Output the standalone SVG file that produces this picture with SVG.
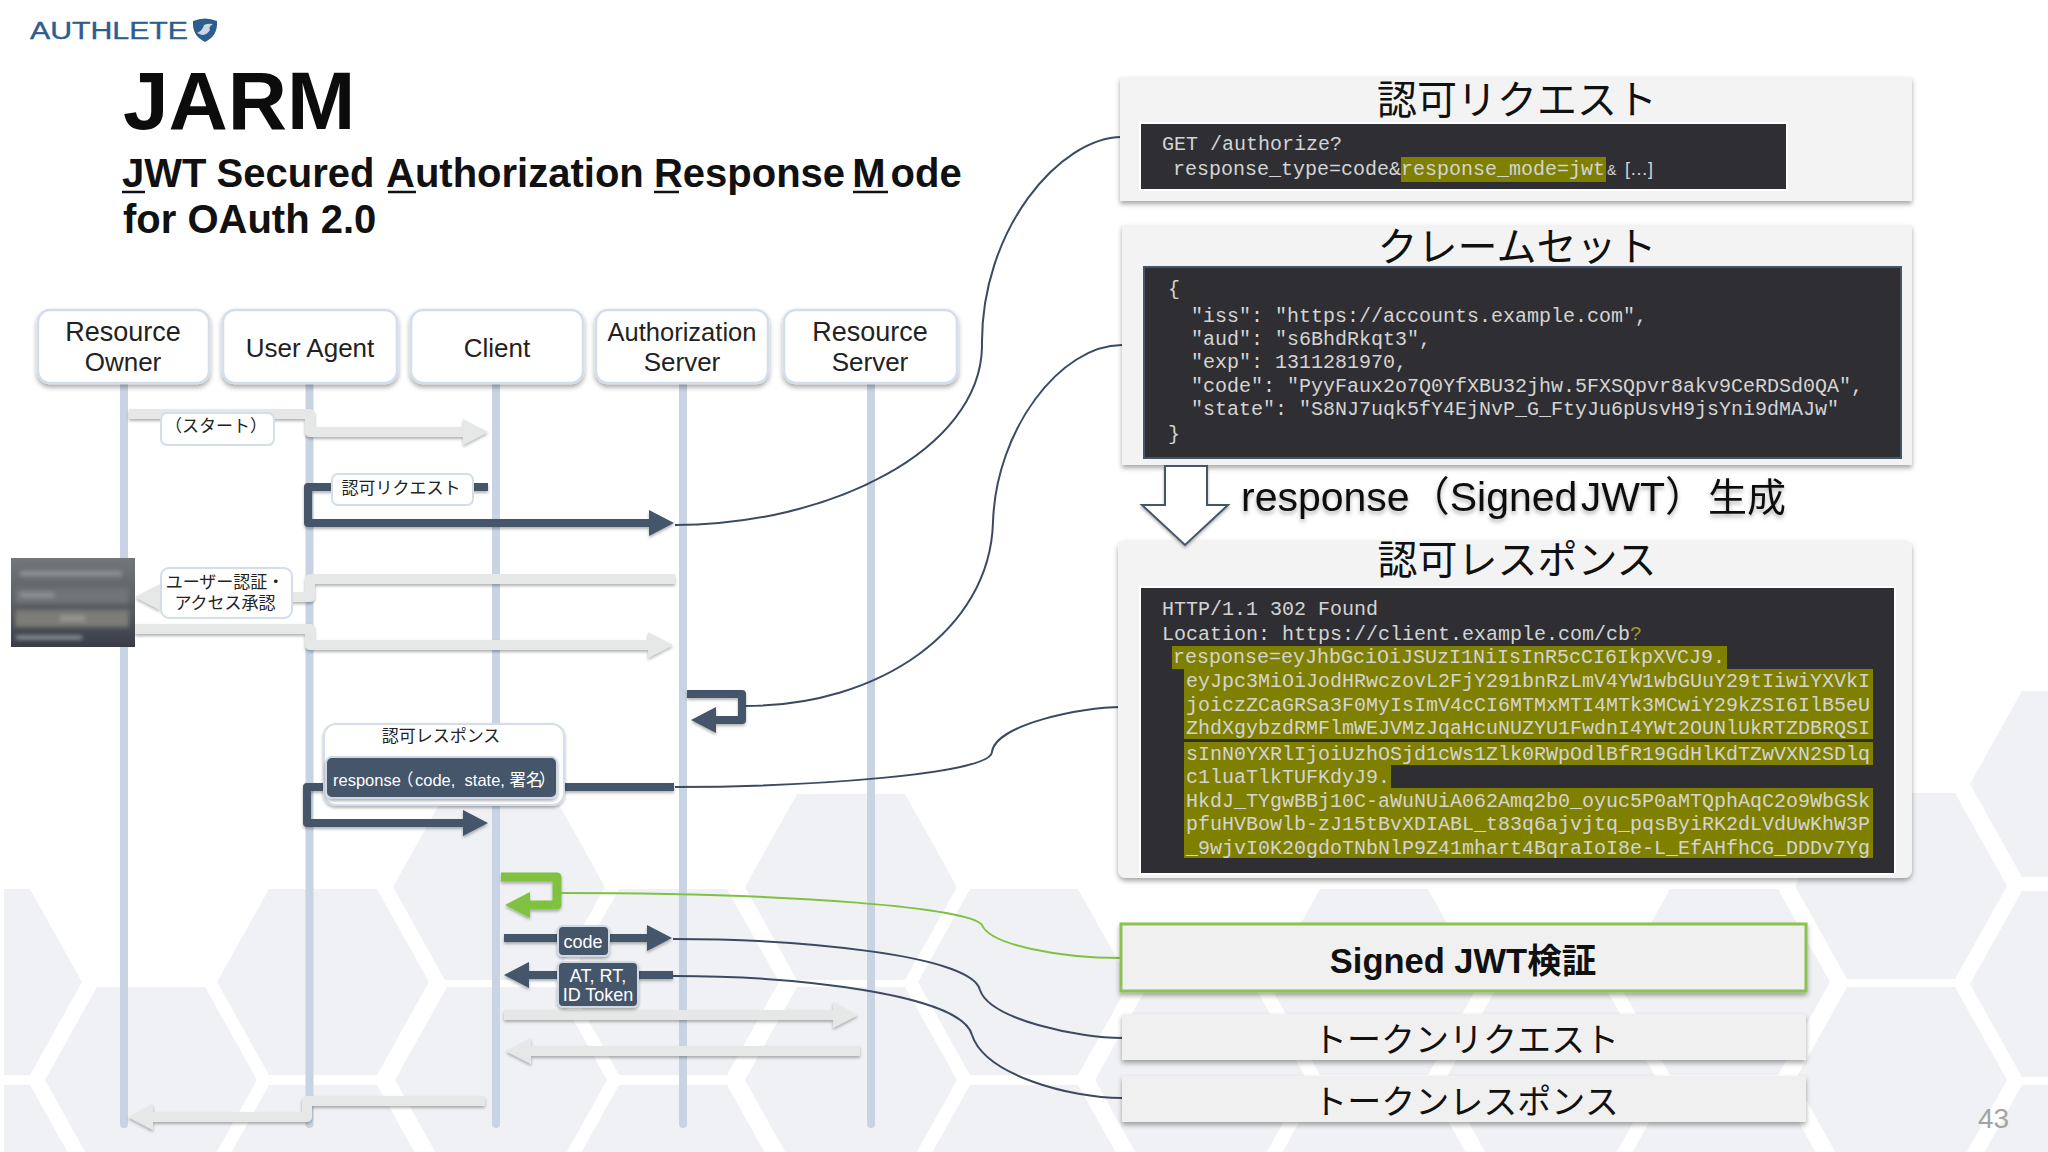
<svg xmlns="http://www.w3.org/2000/svg" xmlns:xlink="http://www.w3.org/1999/xlink" width="2048" height="1152" viewBox="0 0 2048 1152">
<style>
text{font-family:"Liberation Sans","Noto Sans CJK JP",sans-serif;fill:#111}
.b{font-weight:bold}
.ja{font-family:"Noto Sans CJK JP","Liberation Sans",sans-serif}
.actor{fill:#fff;stroke:#d3deea;stroke-width:2.5;filter:url(#sh)}
.life{stroke:#c8d4e3;stroke-width:8;stroke-linecap:round}
.at{font-size:26px;text-anchor:middle;fill:#222}
.panel{fill:#f3f3f4;filter:url(#sh)}
.dark{fill:#2f2f33}
.olive{fill:#808000}
.code{font-family:"Liberation Mono",monospace;font-size:20px;fill:#d4d4d4;white-space:pre}
.h{font-size:40px;text-anchor:middle}
.grey{fill:none;stroke:#e6e7e7;stroke-width:10;stroke-linejoin:round;filter:url(#shg)}
.navy{fill:none;stroke:#44546a;stroke-width:8;stroke-linejoin:round;filter:url(#shg)}
.green{fill:none;stroke:#7fc241;stroke-width:9;stroke-linejoin:round;filter:url(#shg)}
.eg{marker-end:url(#hg)}.en{marker-end:url(#hn)}.el{marker-end:url(#hl)}
.cv{fill:none;stroke:#3c4a60;stroke-width:2}
.lab{fill:#fff;stroke:#d3deea;stroke-width:2}
.ls{font-size:17px;text-anchor:middle;fill:#222}
.chip{fill:#44546a;stroke:#cfd9e6;stroke-width:2;filter:url(#shg)}
.wt{fill:#fff;font-size:18px;text-anchor:middle}
.tb{fill:#f0f0f1;filter:url(#sh)}
</style>
<defs>
<filter id="sh" filterUnits="userSpaceOnUse" x="0" y="0" width="2048" height="1152"><feDropShadow dx="0" dy="3" stdDeviation="2.5" flood-color="#000" flood-opacity="0.35"/></filter>
<filter id="shg" filterUnits="userSpaceOnUse" x="0" y="0" width="2048" height="1152"><feDropShadow dx="0" dy="2" stdDeviation="1.5" flood-color="#000" flood-opacity="0.3"/></filter>
<filter id="ts" filterUnits="userSpaceOnUse" x="0" y="0" width="2048" height="1152"><feDropShadow dx="0" dy="3" stdDeviation="2" flood-color="#000" flood-opacity="0.3"/></filter>
<filter id="bl" filterUnits="userSpaceOnUse" x="0" y="540" width="160" height="120"><feGaussianBlur stdDeviation="2"/></filter>
<marker id="hg" markerUnits="userSpaceOnUse" markerWidth="25" markerHeight="26" refX="0" refY="13" orient="auto"><path d="M0 0L25 13L0 26z" fill="#e6e7e7"/></marker>
<marker id="hn" markerUnits="userSpaceOnUse" markerWidth="25" markerHeight="26" refX="0" refY="13" orient="auto"><path d="M0 0L25 13L0 26z" fill="#44546a"/></marker>
<marker id="hl" markerUnits="userSpaceOnUse" markerWidth="25" markerHeight="26" refX="0" refY="13" orient="auto"><path d="M0 0L25 13L0 26z" fill="#7fc241"/></marker>
<polygon id="hex" points="0,0 52,-93 160,-93 212,0 160,93 52,93" fill="#f0f1f4"/>
<clipPath id="pg"><rect x="4" y="0" width="2044" height="1152"/></clipPath>
<linearGradient id="scr" x1="0" y1="0" x2="0" y2="1"><stop offset="0" stop-color="#74777a"/><stop offset="0.5" stop-color="#5b5f62"/><stop offset="1" stop-color="#393c48"/></linearGradient>
</defs>
<rect width="2048" height="1152" fill="#fff"/>
<g id="background" clip-path="url(#pg)">
<use href="#hex" x="1970" y="784"/>
<use href="#hex" x="393" y="887"/><use href="#hex" x="745" y="887"/><use href="#hex" x="1795" y="886"/>
<use href="#hex" x="-130" y="982"/><use href="#hex" x="217" y="982"/><use href="#hex" x="567" y="982"/><use href="#hex" x="918" y="982"/><use href="#hex" x="1268" y="982"/><use href="#hex" x="1618" y="982"/><use href="#hex" x="1970" y="984"/>
<use href="#hex" x="45" y="1080"/><use href="#hex" x="395" y="1080"/><use href="#hex" x="745" y="1080"/><use href="#hex" x="1095" y="1080"/><use href="#hex" x="1445" y="1080"/><use href="#hex" x="1795" y="1080"/>
<use href="#hex" x="-130" y="1178"/><use href="#hex" x="217" y="1178"/><use href="#hex" x="567" y="1178"/><use href="#hex" x="918" y="1178"/><use href="#hex" x="1268" y="1178"/><use href="#hex" x="1618" y="1178"/><use href="#hex" x="1970" y="1178"/>
</g>
<g id="logo">
<text x="30" y="39" font-size="24.5" textLength="158" lengthAdjust="spacingAndGlyphs" style="fill:#2d5c8e;stroke:#2d5c8e;stroke-width:0.4">AUTHLETE</text>
<path d="M193 21Q205 16 217 21Q218 36 205 42Q192 36 193 21z" fill="#2d5c8e"/>
<path d="M197 33Q203 30 204 25Q208 23 213 24Q208 27 210 30Q207 35 202 35z" fill="#fff" opacity="0.75"/>
</g>
<g id="title">
<text class="b" x="123" y="129" font-size="82" style="fill:#0c0c0c">JARM</text>
<text class="b" x="122" y="187" font-size="40" word-spacing="-1">JWT Secured<tspan dx="3"> Authorization</tspan> Response<tspan dx="-3"> M</tspan><tspan dx="5">ode</tspan></text>
<path d="M122 192H145M388 192H416M654 192H679M853 192H888" stroke="#111" stroke-width="2.500"/>
<text class="b" x="123" y="233" font-size="40">for OAuth 2.0</text>
</g>
<g id="lifelines">
<path class="life" d="M124 383V1124M309.500 383V1124M496 383V1124M683 383V1124M871 383V1124"/>
</g>
<g id="connectors">
<path class="grey eg" d="M129 414H310V432H463"/>
<path class="navy en" d="M488 487H308V523H649"/>
<path class="grey eg" d="M675 579H310V597H160"/>
<path class="grey eg" d="M135 629H310V645H648"/>
<path class="navy en" d="M687 694H742V720H716"/>
<path class="navy en" d="M674 787H307V823H463"/>
<path class="green el" d="M501 877H557V905H530"/>
<path class="navy en" d="M504 938H647"/>
<path class="navy en" d="M673 975H529"/>
<path class="grey eg" d="M504 1015H833"/>
<path class="grey eg" d="M860 1051H531"/>
<path class="grey eg" d="M485 1101H307V1117H153"/>
<path class="cv" d="M675 525C830 525 980 450 982 347C980 230 1060 137 1122 137"/>
<path class="cv" d="M745 706C880 706 990 630 993 522C996 430 1060 345 1122 345"/>
<path class="cv" d="M675 787C800 787 990 775 992 752C995 725 1080 707 1122 707"/>
<path class="cv" style="stroke:#7fc241" d="M560 893C800 893 970 908 982 925C990 945 1060 958 1121 958"/>
<path class="cv" d="M673 939C800 939 972 955 980 990C990 1020 1080 1038 1122 1038"/>
<path class="cv" d="M673 976C800 976 962 995 972 1035C985 1075 1070 1098 1122 1098"/>
</g>
<g id="actor-resource-owner"><rect class="actor" x="38" y="310" width="171" height="73" rx="12"/><text class="at" x="123" y="341" style="font-size:27px">Resource</text><text class="at" x="123" y="371">Owner</text></g>
<g id="actor-user-agent"><rect class="actor" x="223" y="310" width="174" height="73" rx="12"/><text class="at" x="310" y="357">User Agent</text></g>
<g id="actor-client"><rect class="actor" x="411" y="310" width="172" height="73" rx="12"/><text class="at" x="497" y="357">Client</text></g>
<g id="actor-authorization-server"><rect class="actor" x="596" y="310" width="172" height="73" rx="12"/><text class="at" x="682" y="341" style="font-size:25.500px">Authorization</text><text class="at" x="682" y="371">Server</text></g>
<g id="actor-resource-server"><rect class="actor" x="784" y="310" width="173" height="73" rx="12"/><text class="at" x="870" y="341" style="font-size:27px">Resource</text><text class="at" x="870" y="371">Server</text></g>
<g id="label-start"><rect class="lab" x="161" y="413" width="113" height="32" rx="6"/><text class="ls ja" x="216" y="432">（スタート）</text></g>
<g id="label-authz-request"><rect class="lab" x="332" y="474" width="141" height="31" rx="6"/><text class="ls ja" x="401" y="494">認可リクエスト</text></g>
<g id="label-user-auth"><rect class="lab" x="161" y="568" width="131" height="50" rx="8"/><text class="ls ja" x="225" y="588">ユーザー認証・</text><text class="ls ja" x="225" y="609">アクセス承認</text></g>
<g id="login-screen">
<rect x="11" y="558" width="124" height="89" fill="url(#scr)"/>
<g filter="url(#bl)"><rect x="20" y="571" width="102" height="5" fill="#8f9295"/><rect x="15" y="588" width="114" height="15" fill="#6f7477"/><rect x="20" y="593" width="34" height="4" fill="#94979a"/><rect x="15" y="610" width="114" height="17" fill="#7c7c78"/><rect x="60" y="616" width="25" height="5" fill="#999995"/><rect x="16" y="636" width="66" height="3" fill="#a8aaae"/></g>
</g>
<g id="label-authz-response"><rect class="lab" x="324" y="724" width="240" height="81" rx="12" style="filter:url(#shg)"/><text class="ls ja" x="441" y="742">認可レスポンス</text><rect class="chip" x="326" y="757" width="231" height="41" rx="6"/><text class="wt" y="786" style="font-size:16.500px;text-anchor:start"><tspan x="333">response</tspan><tspan x="397">（</tspan><tspan x="415">code,</tspan><tspan x="460"> state,</tspan><tspan x="505"> 署名</tspan><tspan x="539">）</tspan></text></g>
<g id="label-code"><rect class="chip" x="558" y="926" width="51" height="30" rx="5"/><text class="wt" x="583" y="948">code</text></g>
<g id="label-tokens"><rect class="chip" x="558" y="962" width="80" height="45" rx="5"/><text class="wt" x="598" y="982">AT, RT,</text><text class="wt" x="598" y="1001">ID Token</text></g>
<g id="panel-authz-request">
<rect class="panel" x="1120" y="77" width="792" height="124"/>
<rect x="1139" y="122" width="649" height="69" fill="#fff"/>
<rect class="dark" x="1141" y="124" width="645" height="65"/>
<rect class="olive" x="1401" y="157" width="205" height="25"/>
<text class="h ja" x="1517" y="114">認可リクエスト</text>
<text class="code" x="1162" y="150">GET /authorize?</text>
<text class="code" x="1173" y="175">response_type=code&amp;response_mode=jwt</text>
<text x="1607" y="175" font-size="14" style="fill:#d4d4d4">&amp;</text><text x="1625" y="175" font-size="18" style="fill:#d4d4d4">[…]</text>
</g>
<g id="panel-claims">
<rect class="panel" x="1122" y="225" width="790" height="240"/>
<rect class="dark" x="1144" y="267" width="757" height="191" stroke="#44546a" stroke-width="2"/>
<text class="h ja" x="1517" y="261">クレームセット</text>
<text class="code" x="1168" y="295">{</text>
<text class="code" x="1191" y="322">"iss": "https://accounts.example.com",</text>
<text class="code" x="1191" y="345">"aud": "s6BhdRkqt3",</text>
<text class="code" x="1191" y="368">"exp": 1311281970,</text>
<text class="code" x="1191" y="392">"code": "PyyFaux2o7Q0YfXBU32jhw.5FXSQpvr8akv9CeRDSd0QA",</text>
<text class="code" x="1191" y="415">"state": "S8NJ7uqk5fY4EjNvP_G_FtyJu6pUsvH9jsYni9dMAJw"</text>
<text class="code" x="1168" y="440">}</text>
</g>
<g id="panel-authz-response">
<rect class="panel" x="1118" y="540" width="794" height="338" rx="8"/>
<rect x="1139" y="586" width="757" height="289" fill="#fff"/>
<rect class="dark" x="1141" y="588" width="753" height="285"/>
<path class="olive" d="M1172 646H1727V669H1873V739H1184V669H1172zM1184 742H1873V765H1391V788H1873V858H1184z"/>
<text class="h ja" x="1517" y="574">認可レスポンス</text>
<text class="code" x="1162" y="615">HTTP/1.1 302 Found</text>
<text class="code" x="1162" y="640">Location: https://client.example.com/cb<tspan style="fill:#9a9a2a">?</tspan></text>
<text class="code" x="1173" y="663">response=eyJhbGciOiJSUzI1NiIsInR5cCI6IkpXVCJ9.</text>
<text class="code" x="1186" y="687">eyJpc3MiOiJodHRwczovL2FjY291bnRzLmV4YW1wbGUuY29tIiwiYXVkI</text>
<text class="code" x="1186" y="711">joiczZCaGRSa3F0MyIsImV4cCI6MTMxMTI4MTk3MCwiY29kZSI6IlB5eU</text>
<text class="code" x="1186" y="734">ZhdXgybzdRMFlmWEJVMzJqaHcuNUZYU1FwdnI4YWt2OUNlUkRTZDBRQSI</text>
<text class="code" x="1186" y="760">sInN0YXRlIjoiUzhOSjd1cWs1Zlk0RWpOdlBfR19GdHlKdTZwVXN2SDlq</text>
<text class="code" x="1186" y="783">c1luaTlkTUFKdyJ9.</text>
<text class="code" x="1186" y="807">HkdJ_TYgwBBj10C-aWuNUiA062Amq2b0_oyuc5P0aMTQphAqC2o9WbGSk</text>
<text class="code" x="1186" y="830">pfuHVBowlb-zJ15tBvXDIABL_t83q6ajvjtq_pqsByiRK2dLVdUwKhW3P</text>
<text class="code" x="1186" y="854">_9wjvI0K20gdoTNbNlP9Z41mhart4BqraIoI8e-L_EfAHfhCG_DDDv7Yg</text>
</g>
<g id="generate-step">
<polygon points="1165,466 1207,466 1207,505 1228,505 1185,545 1142,505 1165,505" fill="#fff" stroke="#44546a" stroke-width="2" style="filter:url(#shg)"/>
<text x="1241" y="511" font-size="41" word-spacing="-8" style="filter:url(#ts)">response<tspan dx="-1">（Signed JWT）</tspan><tspan dx="2" font-size="39">生成</tspan></text>
</g>
<g id="box-verify"><rect class="tb" x="1121" y="924" width="685" height="67" stroke="#8cc152" stroke-width="3"/><text class="b" x="1463" y="973" font-size="34.500" text-anchor="middle">Signed JWT検証</text></g>
<g id="box-token-request"><rect class="tb" x="1122" y="1014" width="684" height="46"/><text class="ja" x="1466" y="1052" font-size="34" text-anchor="middle">トークンリクエスト</text></g>
<g id="box-token-response"><rect class="tb" x="1122" y="1076" width="684" height="46"/><text class="ja" x="1466" y="1114" font-size="34" text-anchor="middle">トークンレスポンス</text></g>
<text id="page-number" x="1978" y="1128" font-size="28" style="fill:#a3a3a3">43</text>
</svg>
